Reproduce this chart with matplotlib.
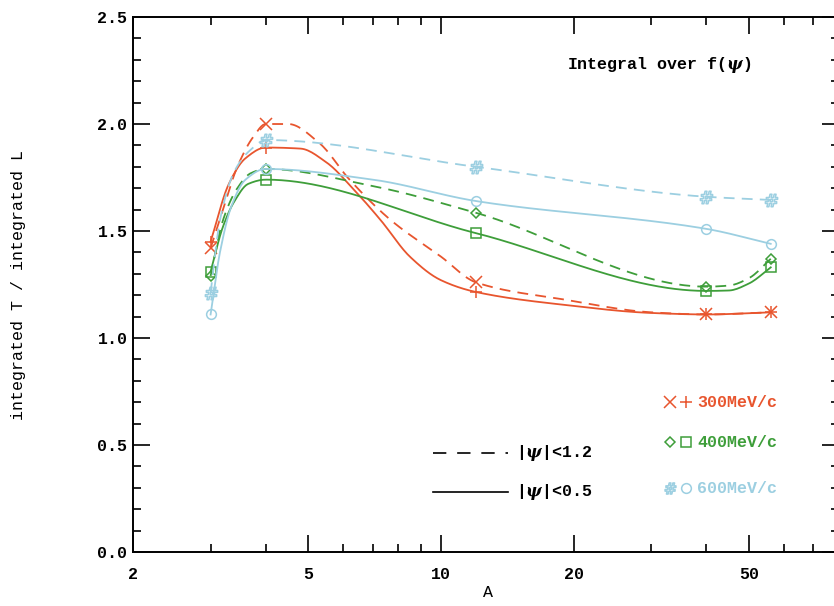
import numpy as np
import matplotlib
matplotlib.use('Agg')
import matplotlib.pyplot as plt
from matplotlib.ticker import FixedLocator, NullFormatter, MultipleLocator

# nuclei mass numbers
A = [3, 4, 12, 40, 56]

# ratios at the marked nuclei
red_dash = [1.42, 2.00, 1.26, 1.11, 1.12]     # 300 MeV/c, |psi|<1.2
red_solid = [1.45, 1.89, 1.215, 1.11, 1.12]   # 300 MeV/c, |psi|<0.5
grn_dash = [1.29, 1.79, 1.585, 1.24, 1.37]    # 400 MeV/c, |psi|<1.2
grn_solid = [1.31, 1.74, 1.49, 1.22, 1.33]    # 400 MeV/c, |psi|<0.5
blu_dash = [1.21, 1.925, 1.80, 1.66, 1.645]   # 600 MeV/c, |psi|<1.2
blu_solid = [1.11, 1.79, 1.64, 1.51, 1.44]    # 600 MeV/c, |psi|<0.5

# points along the drawn curves
red_dash_cx = [3, 3.2, 3.45, 3.75, 4, 4.5, 5.3, 6.2, 7.7, 10, 12, 19, 30, 40, 56]
red_dash_cy = [1.42, 1.60, 1.80, 1.94, 2.00, 2.00, 1.91, 1.74, 1.55, 1.38, 1.26, 1.18, 1.12, 1.11, 1.12]
red_solid_cx = [3, 3.3, 3.6, 4, 4.8, 5.5, 6.3, 7.3, 8.5, 10, 12, 19, 30, 40, 56]
red_solid_cy = [1.45, 1.72, 1.84, 1.89, 1.885, 1.82, 1.70, 1.55, 1.38, 1.27, 1.215, 1.155, 1.117, 1.11, 1.12]
grn_dash_cx = [3, 3.2, 3.45, 3.7, 4, 7, 12, 40, 45, 50, 56]
grn_dash_cy = [1.29, 1.55, 1.70, 1.77, 1.79, 1.71, 1.585, 1.24, 1.245, 1.28, 1.37]
grn_solid_cx = [3, 3.2, 3.4, 3.65, 4, 12, 40, 45, 50, 56]
grn_solid_cy = [1.31, 1.52, 1.64, 1.72, 1.74, 1.49, 1.22, 1.222, 1.255, 1.33]
blu_dash_cx = [3, 3.15, 3.4, 3.7, 4, 12, 40, 56]
blu_dash_cy = [1.21, 1.55, 1.78, 1.88, 1.925, 1.80, 1.66, 1.645]
blu_solid_cx = [3, 3.15, 3.35, 3.6, 4, 7, 12, 40, 56]
blu_solid_cy = [1.11, 1.40, 1.62, 1.74, 1.79, 1.74, 1.64, 1.51, 1.44]

RED = '#e8552e'
GRN = '#3e9e3a'
BLU = '#9ccfe1'

plt.rcParams['font.family'] = ['Liberation Mono', 'DejaVu Sans Mono']
plt.rcParams['font.weight'] = 'bold'
plt.rcParams['mathtext.fontset'] = 'dejavuserif'


def smooth(x, y, n=300):
    # monotone cubic (Fritsch-Carlson) through the curve points, in log(x)
    t = np.log10(np.asarray(x, float))
    y = np.asarray(y, float)
    h = np.diff(t)
    d = np.diff(y) / h
    m = np.zeros_like(y)
    m[0], m[-1] = d[0], d[-1]
    for i in range(1, len(y) - 1):
        if d[i - 1] * d[i] > 0:
            w1 = 2 * h[i] + h[i - 1]
            w2 = h[i] + 2 * h[i - 1]
            m[i] = (w1 + w2) / (w1 / d[i - 1] + w2 / d[i])
    tt = np.linspace(t[0], t[-1], n)
    k = np.clip(np.searchsorted(t, tt) - 1, 0, len(t) - 2)
    s = (tt - t[k]) / h[k]
    h00 = 2 * s ** 3 - 3 * s ** 2 + 1
    h10 = s ** 3 - 2 * s ** 2 + s
    h01 = -2 * s ** 3 + 3 * s ** 2
    h11 = s ** 3 - s ** 2
    yy = h00 * y[k] + h10 * h[k] * m[k] + h01 * y[k + 1] + h11 * h[k] * m[k + 1]
    return 10 ** tt, yy


fig = plt.figure(figsize=(8.34, 6.06), dpi=100)
ax = fig.add_axes([133 / 834, 54 / 606, 706 / 834, 535 / 606])

series = [
    (red_dash, red_dash_cx, red_dash_cy, RED, '--', 'x', 8),
    (red_solid, red_solid_cx, red_solid_cy, RED, '-', '+', 9),
    (grn_dash, grn_dash_cx, grn_dash_cy, GRN, '--', 'D', 5),
    (grn_solid, grn_solid_cx, grn_solid_cy, GRN, '-', 's', 7),
    (blu_dash, blu_dash_cx, blu_dash_cy, BLU, '--', '$\\#$', 9),
    (blu_solid, blu_solid_cx, blu_solid_cy, BLU, '-', 'o', 7),
]
for ys, cx, cy, c, ls, mk, ms in series:
    sx, sy = smooth(cx, cy)
    if ls == '--':
        ax.plot(sx, sy, color=c, lw=1.3, ls='--', dashes=(6, 4))
    else:
        ax.plot(sx, sy, color=c, lw=1.3)
    ax.plot(A, ys, ls='none', marker=mk, ms=ms, mfc='none', mec=c, mew=1.1)

ax.set_xscale('log')
ax.set_xlim(2, 80)
ax.set_ylim(0, 2.5)
ax.xaxis.set_major_locator(FixedLocator([2, 5, 10, 20, 50]))
ax.xaxis.set_minor_locator(FixedLocator([3, 4, 6, 7, 8, 9, 30, 40, 60, 70, 80]))
ax.xaxis.set_major_formatter(plt.FuncFormatter(lambda v, p: '%d' % v))
ax.xaxis.set_minor_formatter(NullFormatter())
ax.yaxis.set_major_locator(MultipleLocator(0.5))
ax.yaxis.set_minor_locator(MultipleLocator(0.1))
ax.yaxis.set_major_formatter(plt.FuncFormatter(lambda v, p: '%.1f' % v))
ax.tick_params(which='both', direction='in', top=True, right=True, labelsize=12, width=1.2)
ax.tick_params(which='major', length=12)
ax.tick_params(which='minor', length=6)
ax.tick_params(axis='x', which='major', pad=11)
ax.tick_params(axis='y', which='major', pad=4)
for s in ax.spines.values():
    s.set_linewidth(1.4)

ax.set_xlabel('A', fontsize=12)
ax.xaxis.set_label_coords(0.503, -0.062)
ax.set_ylabel('integrated T / integrated L', fontsize=12)
ax.yaxis.set_label_coords(-0.152, 0.5)

ax.text(0.615, 0.91, 'Integral over f($\\psi$)', transform=ax.transAxes, fontsize=12, va='center')

# momentum legend
leg = [
    (0.280, RED, 'x', '+', 8, 9, '300MeV/c'),
    (0.2056, GRN, 'D', 's', 5, 7, '400MeV/c'),
    (0.1196, BLU, '$\\#$', 'o', 8, 7, '600MeV/c'),
]
for y, c, m1, m2, s1, s2, lab in leg:
    ax.plot([0.761], [y], transform=ax.transAxes, marker=m1, ms=s1, mfc='none', mec=c, mew=1.1, ls='none')
    ax.plot([0.783], [y], transform=ax.transAxes, marker=m2, ms=s2, mfc='none', mec=c, mew=1.1, ls='none')
    ax.text(0.799, y, lab, transform=ax.transAxes, color=c, fontsize=12, va='center')

# line-style legend
ax.plot([0.425, 0.531], [0.185, 0.185], transform=ax.transAxes, color='k', lw=1.2, ls='--', dashes=(8, 6.5))
ax.plot([0.425, 0.531], [0.112, 0.112], transform=ax.transAxes, color='k', lw=1.2)
ax.text(0.5425, 0.185, '|$\\psi$|<1.2', transform=ax.transAxes, fontsize=12, va='center')
ax.text(0.5425, 0.112, '|$\\psi$|<0.5', transform=ax.transAxes, fontsize=12, va='center')

fig.savefig('out.png', dpi=100)
